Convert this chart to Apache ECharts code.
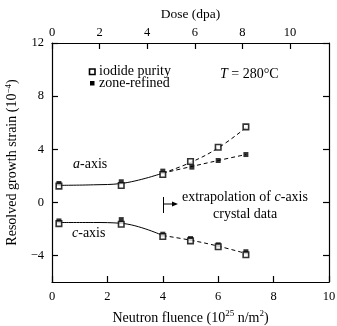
<!DOCTYPE html>
<html><head><meta charset="utf-8">
<script src="https://cdn.jsdelivr.net/npm/echarts@6/dist/echarts.min.js"></script>
<style>html,body{margin:0;padding:0;background:#fff}#c{width:337px;height:326px}</style>
</head><body><div id="c"></div>
<script>
// Data
const fluence = [0.25, 2.5, 4, 5, 6, 7];
const fluenceZone = [0.25, 2.5, 4, 5.05, 6, 7];
const aIodide = [1.22, 1.27, 2.1, 3.07, 4.15, 5.68];
const aZone = [1.42, 1.55, 2.35, 2.65, 3.15, 3.6];
const cIodide = [-1.6, -1.65, -2.57, -2.9, -3.35, -3.95];
const cZone = [-1.4, -1.3, -2.4, -2.73, -3.2, -3.72];
// fitted curves
const aSolidX = [0.25, 1.5, 2.5, 4];
const aSolidY = [1.28, 1.32, 1.42, 2.2];
const aDashIodX = [4, 5, 6, 7];
const aDashIodY = [2.2, 3.0, 4.1, 5.62];
const aDashZoneX = [4, 5, 6, 7];
const aDashZoneY = [2.2, 2.68, 3.15, 3.6];
const cSolidX = [0.25, 1.5, 2.5, 4];
const cSolidY = [-1.52, -1.52, -1.58, -2.5];
const cDashX = [4, 5, 6, 7];
const cDashY = [-2.5, -2.85, -3.3, -3.85];
const yTicks = [-4, 0, 4, 8, 12];
const legendNames = ['iodide purity', 'zone-refined'];
const doseMaxAtFluence10 = 11.64;

const zip = (xs, ys) => xs.map((x, i) => [x, ys[i]]);
const F = 'Liberation Serif';
const chart = echarts.init(document.getElementById('c'), null, {renderer: 'canvas'});
const axisCommon = {
  axisLine: {show: true, onZero: false, lineStyle: {color: '#000', width: 1.2}},
  axisTick: {show: true, inside: true, length: 6, lineStyle: {color: '#000', width: 1.2}},
  splitLine: {show: false},
  axisLabel: {color: '#000', fontFamily: F, fontSize: 12.5}
};
const lineS = (name, xs, ys, dashed) => ({
  type: 'line', data: zip(xs, ys), smooth: 0.4, symbol: 'none', silent: true,
  lineStyle: {color: '#000', width: 1, type: dashed ? [4, 3] : 'solid'}, z: 1
});
const openStyle = {color: '#fff', borderColor: '#000', borderWidth: 1.6};
const fillStyle = {color: '#000', borderColor: '#000', borderWidth: 0};
const richIt = {
  i: {fontFamily: F, fontSize: 14, fontStyle: 'italic', fill: '#000'},
  n: {fontFamily: F, fontSize: 14, fill: '#000'}
};
const richSup = {
  t: {fontFamily: F, fontSize: 14, color: '#000', lineHeight: 16, verticalAlign: 'bottom'},
  s: {fontFamily: F, fontSize: 9, color: '#000', lineHeight: 16, verticalAlign: 'top'}
};
chart.setOption({
  animation: false,
  backgroundColor: '#fff',
  textStyle: {fontFamily: F, color: '#000'},
  grid: {left: 52, right: 8, top: 43, bottom: 44, outerBoundsMode: 'none', containLabel: false},
  xAxis: [
    Object.assign({}, axisCommon, {
      type: 'value', min: 0, max: 10, interval: 2, position: 'bottom',
      name: '{t|Neutron fluence (10}{s|25}{t| n/m}{s|2}{t|)}', nameLocation: 'middle', nameGap: 27,
      nameTextStyle: {rich: richSup},
      axisLabel: {color: '#000', fontFamily: F, fontSize: 12.5, margin: 8}
    }),
    Object.assign({}, axisCommon, {
      type: 'value', min: 0, max: doseMaxAtFluence10, interval: 2, position: 'top',
      name: 'Dose (dpa)', nameLocation: 'middle', nameGap: 22,
      nameTextStyle: {fontFamily: F, fontSize: 13.5, color: '#000'},
      axisLabel: {color: '#000', fontFamily: F, fontSize: 12.5, margin: 4, showMaxLabel: false}
    })
  ],
  yAxis: [
    Object.assign({}, axisCommon, {
      type: 'value', min: -6, max: 12, position: 'left',
      axisTick: {show: true, inside: true, length: 6, lineStyle: {color: '#000', width: 1.2}, customValues: yTicks},
      axisLabel: {color: '#000', fontFamily: F, fontSize: 12.5, margin: 8, customValues: yTicks,
        formatter: v => String(v).replace('-', '\u2212')},
      name: '{t|Resolved growth strain (10}{s|\u22124}{t|)}', nameLocation: 'middle', nameGap: 30, nameRotate: 90,
      nameTextStyle: {rich: richSup}
    }),
    Object.assign({}, axisCommon, {
      type: 'value', min: -6, max: 12, position: 'right',
      axisTick: {show: true, inside: true, length: 6, lineStyle: {color: '#000', width: 1.2}, customValues: yTicks},
      axisLabel: {show: false}
    })
  ],
  series: [
    lineS('aSolid', aSolidX, aSolidY, false),
    lineS('aDashI', aDashIodX, aDashIodY, true),
    lineS('aDashZ', aDashZoneX, aDashZoneY, true),
    lineS('cSolid', cSolidX, cSolidY, false),
    lineS('cDash', cDashX, cDashY, true),
    {type: 'scatter', name: legendNames[1], data: zip(fluenceZone, aZone).concat(zip(fluence, cZone)),
      symbol: 'rect', symbolSize: 5, itemStyle: fillStyle, z: 3},
    {type: 'scatter', name: legendNames[0], data: zip(fluence, aIodide).concat(zip(fluence, cIodide)),
      symbol: 'rect', symbolSize: 5.5, itemStyle: openStyle, z: 4}
  ],
  graphic: [
    // legend
    {type: 'rect', shape: {x: 89.5, y: 69, width: 5.5, height: 5.5}, style: {fill: '#fff', stroke: '#000', lineWidth: 1.6}},
    {type: 'text', left: 99, top: 64, style: {text: '{n|' + legendNames[0] + '}', rich: richIt}},
    {type: 'rect', shape: {x: 90, y: 81, width: 4.5, height: 4.5}, style: {fill: '#000'}},
    {type: 'text', left: 99, top: 76, style: {text: '{n|' + legendNames[1] + '}', rich: richIt}},
    // annotations
    {type: 'text', left: 73, top: 157, style: {text: '{i|a}{n|-axis}', rich: richIt}},
    {type: 'text', left: 72, top: 226, style: {text: '{i|c}{n|-axis}', rich: richIt}},
    {type: 'text', left: 220, top: 67, style: {text: '{i|T}{n| = 280°C}', rich: richIt}},
    {type: 'text', left: 182, top: 190, style: {text: '{n|extrapolation of }{i|c}{n|-axis}', rich: richIt}},
    {type: 'text', left: 213, top: 207, style: {text: '{n|crystal data}', rich: richIt}},
    {type: 'line', shape: {x1: 163.5, y1: 197, x2: 163.5, y2: 213}, style: {stroke: '#000', lineWidth: 1}},
    {type: 'line', shape: {x1: 163.5, y1: 204, x2: 174, y2: 204}, style: {stroke: '#000', lineWidth: 1}},
    {type: 'polygon', shape: {points: [[178, 204], [172, 201.5], [172, 206.5]]}, style: {fill: '#000'}}
  ]
});
</script></body></html>
